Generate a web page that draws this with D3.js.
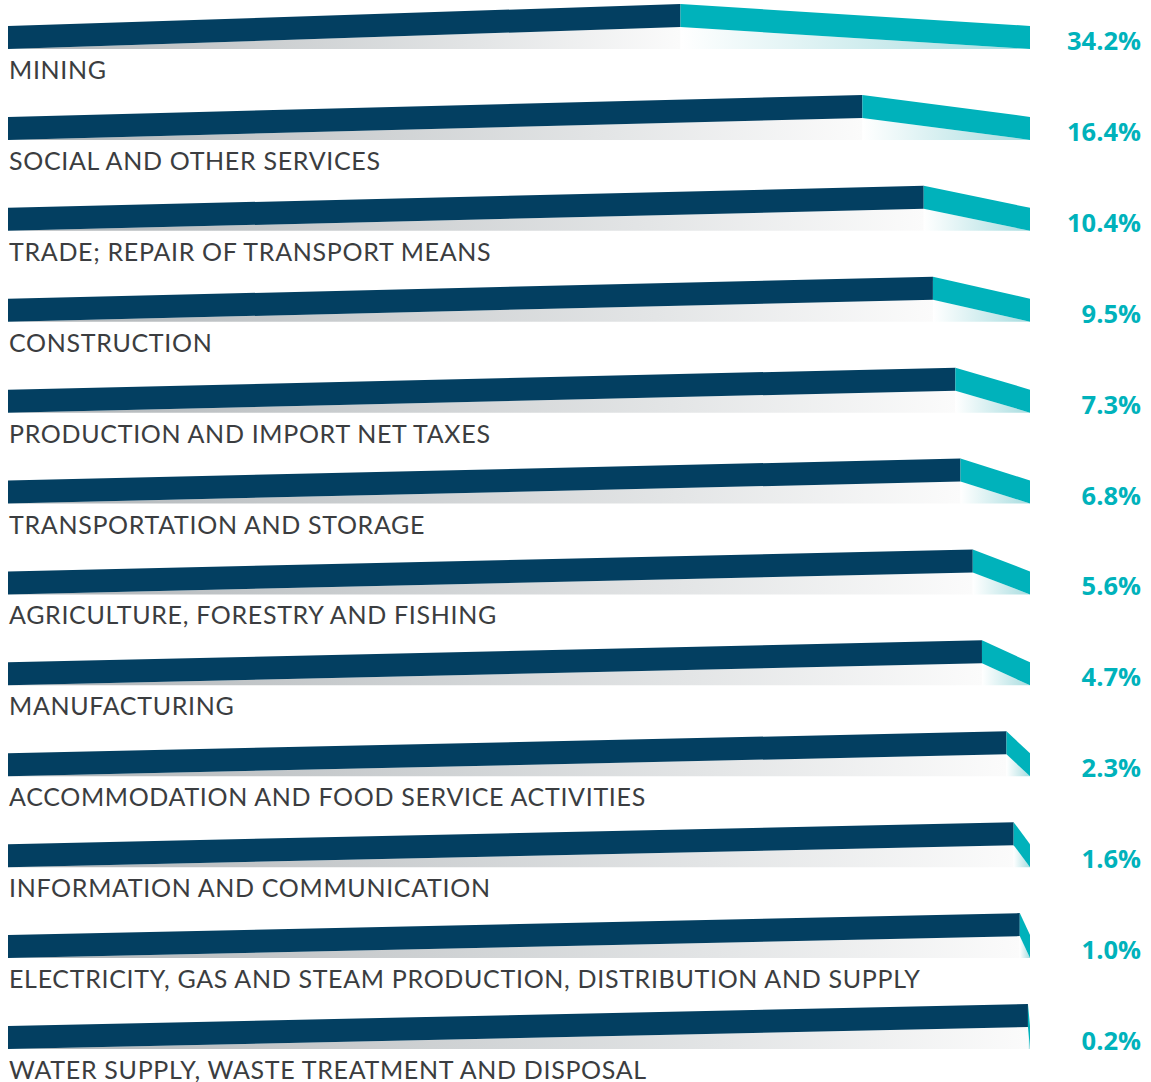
<!DOCTYPE html>
<html>
<head>
<meta charset="utf-8">
<script src="https://cdn.jsdelivr.net/npm/d3@7"></script>
<style>
  body { margin: 0; background: #fff; }
  svg { display: block; }
</style>
</head>
<body>
<div id="chart"></div>
<script>
const categories = [
  "MINING",
  "SOCIAL AND OTHER SERVICES",
  "TRADE; REPAIR OF TRANSPORT MEANS",
  "CONSTRUCTION",
  "PRODUCTION AND IMPORT NET TAXES",
  "TRANSPORTATION AND STORAGE",
  "AGRICULTURE, FORESTRY AND FISHING",
  "MANUFACTURING",
  "ACCOMMODATION AND FOOD SERVICE ACTIVITIES",
  "INFORMATION AND COMMUNICATION",
  "ELECTRICITY, GAS AND STEAM PRODUCTION, DISTRIBUTION AND SUPPLY",
  "WATER SUPPLY, WASTE TREATMENT AND DISPOSAL"
];
const shares = [34.2, 16.4, 10.4, 9.5, 7.3, 6.8, 5.6, 4.7, 2.3, 1.6, 1.0, 0.2];

const W = 1151, H = 1082;
const x0 = 8, x1 = 1030;
const bandH = 23, rise = 22;

const data = categories.map((c, i) => ({name: c, value: shares[i]}));

// teal part length, measured from the right end
const scaleX = d3.scaleLinear().domain([0, 100]).range([0, x1 - x0]);
// baseline of each row
const scaleY = d3.scalePoint().domain(categories).range([49, 1049]);

const svg = d3.select('#chart').append('svg')
  .attr('width', W)
  .attr('height', H);

const defs = svg.append('defs');
const grey = defs.append('linearGradient').attr('id', 'grey');
grey.append('stop').attr('offset', '0%').attr('stop-color', '#afb4b7');
grey.append('stop').attr('offset', '70%').attr('stop-color', '#e3e5e6');
grey.append('stop').attr('offset', '100%').attr('stop-color', '#fbfbfb');
const tealFade = defs.append('linearGradient').attr('id', 'tealFade');
tealFade.append('stop').attr('offset', '0%').attr('stop-color', '#ffffff');
tealFade.append('stop').attr('offset', '100%').attr('stop-color', '#a6dcdf');

const rows = svg.selectAll('g.row')
  .data(data)
  .join('g')
  .attr('class', 'row');

const xs = d => x1 - scaleX(d.value);
const B = d => scaleY(d.name);

// shadow under navy
rows.append('path')
  .attr('d', d => `M${x0},${B(d)}L${xs(d)},${B(d) - rise}L${xs(d)},${B(d)}Z`)
  .attr('fill', 'url(#grey)');

// shadow under teal
rows.append('path')
  .attr('d', d => `M${xs(d)},${B(d) - rise}L${x1},${B(d)}L${xs(d)},${B(d)}Z`)
  .attr('fill', 'url(#tealFade)');

// navy band
rows.append('path')
  .attr('d', d => `M${x0},${B(d)}L${x0},${B(d) - bandH}L${xs(d)},${B(d) - rise - bandH}L${xs(d)},${B(d) - rise}Z`)
  .attr('fill', '#033f61');

// teal band
rows.append('path')
  .attr('d', d => `M${xs(d)},${B(d) - rise}L${xs(d)},${B(d) - rise - bandH}L${x1},${B(d) - bandH}L${x1},${B(d)}Z`)
  .attr('fill', '#00b2bb');

rows.append('text')
  .attr('x', 9)
  .attr('y', d => B(d) + 30)
  .style('font-family', 'Lato, "Open Sans", sans-serif')
  .style('font-size', '25px')
  .style('letter-spacing', '0.68px')
  .style('fill', '#3b3d40')
  .text(d => d.name);

rows.append('text')
  .attr('x', 1141)
  .attr('y', d => B(d) + 1)
  .attr('text-anchor', 'end')
  .style('font-family', '"Open Sans", sans-serif')
  .style('font-weight', 700)
  .style('font-size', '25.5px')
  .style('fill', '#00b2bb')
  .text(d => d.value.toFixed(1) + '%');
</script>
</body>
</html>
